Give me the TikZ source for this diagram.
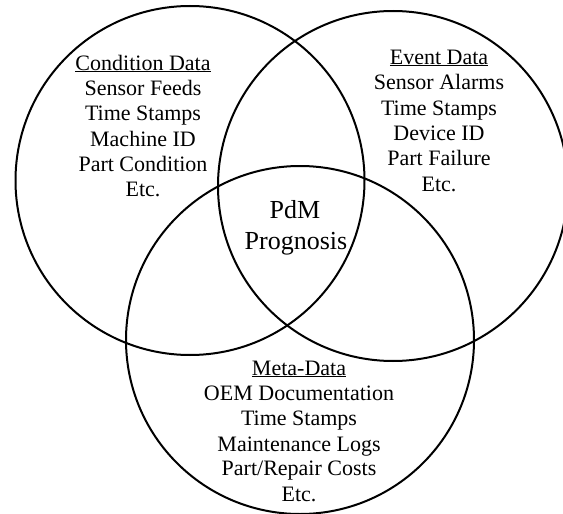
\documentclass[tikz,border=0pt]{standalone}
\usepackage{fontspec}
\setmainfont{Liberation Serif}
\begin{document}
\begin{tikzpicture}[x=1pt,y=-1pt,
  ring/.style={draw=black,line width=2pt},
  item/.style={anchor=base,inner sep=0pt,font=\fontsize{22}{25}\selectfont},
  core/.style={anchor=base,inner sep=0pt,font=\fontsize{26}{30}\selectfont}]
\useasboundingbox (0,0) rectangle (563,514);
\clip (0,0) rectangle (563,514);
\node[ring,circle,minimum size=349pt,inner sep=0pt] (cond) at (190,180.5) {};
\node[ring,circle,minimum size=350pt,inner sep=0pt] (event) at (393,186) {};
\node[ring,circle,minimum size=348pt,inner sep=0pt] (meta) at (300,340) {};
% Condition data
\node[item] (c0) at (143,70) {\underline{Condition Data}};
\node[item] (c1) at (143,95) {Sensor Feeds};
\node[item] (c2) at (143,120.5) {Time Stamps};
\node[item] (c3) at (143,146) {Machine ID};
\node[item] (c4) at (143,171) {Part Condition};
\node[item] (c5) at (143,196) {Etc.};
% Event data
\node[item] (e0) at (439,64) {\underline{Event Data}};
\node[item] (e1) at (439,89) {Sensor Alarms};
\node[item] (e2) at (439,115) {Time Stamps};
\node[item] (e3) at (439,140) {Device ID};
\node[item] (e4) at (439,165) {Part Failure};
\node[item] (e5) at (439,191) {Etc.};
% Meta data
\node[item] (m0) at (299,375) {\underline{Meta-Data}};
\node[item] (m1) at (299,400) {OEM Documentation};
\node[item] (m2) at (299,425) {Time Stamps};
\node[item] (m3) at (299,451) {Maintenance Logs};
\node[item] (m4) at (299,475) {Part/Repair Costs};
\node[item] (m5) at (299,501) {Etc.};
% Centre
\node[core] (p0) at (295,218) {PdM};
\node[core] (p1) at (296,249) {Prognosis};
\end{tikzpicture}
\end{document}
